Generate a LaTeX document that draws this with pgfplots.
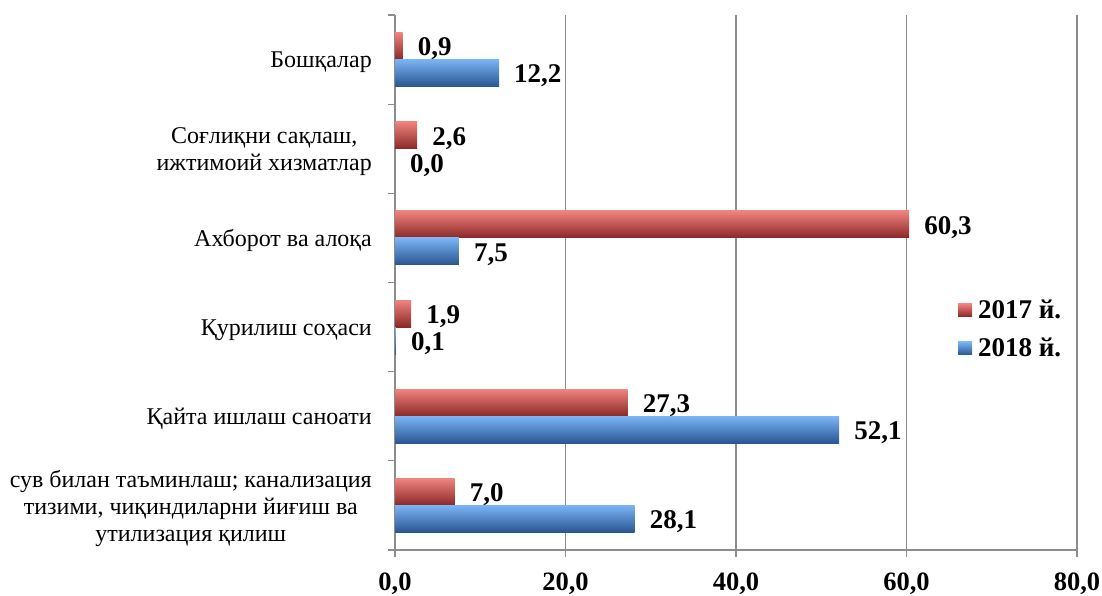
\documentclass[border=0pt]{standalone}
\usepackage{pgfplots}
\pgfplotsset{compat=1.18}
\usepackage{fontspec}
\setmainfont{Liberation Serif}
\definecolor{rtop}{HTML}{F0837F}
\definecolor{rmid}{HTML}{C4423F}
\definecolor{rbot}{HTML}{8A2826}
\definecolor{btop}{HTML}{7AB4F5}
\definecolor{bmid}{HTML}{4A7EC6}
\definecolor{bbot}{HTML}{2A5590}
\definecolor{gridc}{HTML}{8C8C8C}
\pgfplotsset{
  redbar/.style={draw=none, top color=rtop, middle color=rmid, bottom color=rbot, bar shift=13.5pt},
  bluebar/.style={draw=none, top color=btop, middle color=bmid, bottom color=bbot, bar shift=-13.5pt},
}
\begin{document}
\begin{tikzpicture}
\begin{axis}[
  at={(395pt,46pt)}, anchor=south west,
  scale only axis, width=682pt, height=535pt,
  xbar, bar width=27pt,
  xmin=0, xmax=80, ymin=-0.5, ymax=5.5,
  axis x line*=bottom, axis y line*=left,
  axis line style={gridc, line width=1.5pt},
  xtick={0,20,40,60,80},
  xmajorgrids, major grid style={gridc, line width=1.3pt},
  tick align=outside,
  major tick length=7pt, minor tick length=7pt,
  major x tick style={gridc, line width=1.3pt},
  major y tick style={draw=none},
  minor y tick style={gridc, line width=1.3pt},
  ytick={0,1,2,3,4,5},
  minor ytick={-0.5,0.5,1.5,2.5,3.5,4.5,5.5},
  yticklabels={{сув билан таъминлаш; канализация\\тизими, чиқиндиларни йиғиш ва\\утилизация қилиш},
    {Қайта ишлаш саноати},{Қурилиш соҳаси},{Ахборот ва алоқа},
    {Соғлиқни сақлаш,\\ижтимоий хизматлар},{Бошқалар}},
  yticklabel style={align=center, font=\fontsize{24}{27}\selectfont, inner sep=0pt, xshift=-16pt, yshift=-3pt},
  xticklabel={\pgfmathprintnumber[fixed,fixed zerofill,precision=1,use comma,assume math mode=true]{\tick}},
  xticklabel style={font=\bfseries\fontsize{26.5}{30}\selectfont, inner sep=0pt, yshift=-16pt},
  point meta=x,
  nodes near coords={\pgfmathprintnumber[fixed,fixed zerofill,precision=1,use comma,assume math mode=true]{\pgfplotspointmeta}},
  nodes near coords style={font=\bfseries\fontsize{27}{30}\selectfont, anchor=west, inner sep=0pt, xshift=15pt, yshift=-3pt},
  legend style={at={(0.8255,0.471)}, anchor=north west, draw=none, fill=none,
    font=\bfseries\fontsize{27}{30}\selectfont, row sep=14pt, column sep=4pt, inner sep=0pt},
  legend cell align=left,
  legend image code/.code={\path[#1] (0pt,-6.5pt) rectangle (14pt,6.5pt);},
]
\addplot[redbar] coordinates {(7.0,0)};
\addlegendentry{2017 й.}
\addplot[bluebar] coordinates {(28.1,0)};
\addlegendentry{2018 й.}
\addplot[redbar, forget plot] coordinates {(27.3,1)};
\addplot[bluebar, forget plot] coordinates {(52.1,1)};
\addplot[redbar, forget plot] coordinates {(1.9,2)};
\addplot[bluebar, forget plot] coordinates {(0.1,2)};
\addplot[redbar, forget plot] coordinates {(60.3,3)};
\addplot[bluebar, forget plot] coordinates {(7.5,3)};
\addplot[redbar, forget plot] coordinates {(2.6,4)};
\addplot[draw=none, fill=none, bar shift=-13.5pt, forget plot] coordinates {(0.0,4)};
\addplot[redbar, forget plot] coordinates {(0.9,5)};
\addplot[bluebar, forget plot] coordinates {(12.2,5)};
\end{axis}
\pgfresetboundingbox
\path[use as bounding box] (0,0) rectangle (1102pt,596pt);
\end{tikzpicture}
\end{document}
